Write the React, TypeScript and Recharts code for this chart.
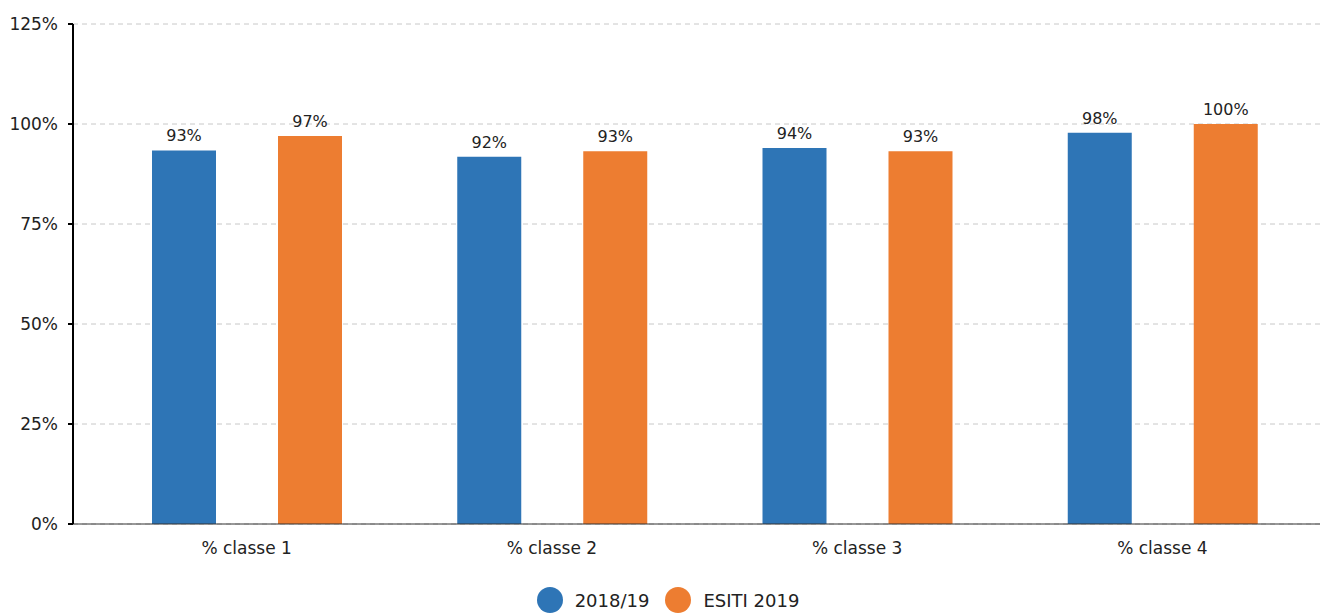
import React from 'react';
import { BarChart, Bar, XAxis, YAxis, CartesianGrid, Legend, LabelList } from 'recharts';

const categories = ['% classe 1', '% classe 2', '% classe 3', '% classe 4'];
const series2018 = [93.4, 91.8, 94, 97.8];
const seriesEsiti = [97, 93.2, 93.2, 100];
const yTicks = [0, 25, 50, 75, 100, 125];

const data = categories.map((c, i) => ({ name: c, a: series2018[i], b: seriesEsiti[i] }));

const FONT = '"DejaVu Sans", Verdana, sans-serif';

const legendItems = [
  { label: '2018/19', color: '#2e75b6' },
  { label: 'ESITI 2019', color: '#ed7d31' },
];

const LegendContent = () => (
  <div style={{ display: 'flex', justifyContent: 'center', alignItems: 'center', paddingTop: 23, fontFamily: FONT, fontSize: 18, color: '#222' }}>
    {legendItems.map((it) => (
      <div key={it.label} style={{ display: 'flex', alignItems: 'center', margin: '0 8px' }}>
        <svg width={26} height={26} style={{ marginRight: 12 }}>
          <circle cx={13} cy={13} r={13} fill={it.color} />
        </svg>
        <span>{it.label}</span>
      </div>
    ))}
  </div>
);

export default function App() {
  return (
    <div style={{ fontFamily: FONT, width: 1320, height: 620 }}>
      <style>{'html,body{overflow:hidden}'}</style>
      <BarChart
        width={1320}
        height={620}
        data={data}
        margin={{ top: 16, right: 0, left: 0, bottom: 0 }}
        barCategoryGap={57}
        barGap={62}
      >
        <CartesianGrid vertical={false} stroke="#c8c8c8" strokeDasharray="5 4" />
        <XAxis
          dataKey="name"
          height={40}
          padding={{ left: 21, right: 13 }}
          tickLine={false}
          axisLine={{ stroke: '#333', strokeWidth: 1 }}
          tick={{ fill: '#222', fontSize: 17, fontFamily: FONT }}
          tickMargin={12}
        />
        <YAxis
          width={65}
          domain={[0, 125]}
          ticks={yTicks}
          tickFormatter={(v: number) => `${v}%`}
          axisLine={{ stroke: '#000', strokeWidth: 2 }}
          tickLine={{ stroke: '#000', strokeWidth: 2 }}
          tickSize={5}
          tickMargin={10}
          tick={{ fill: '#222', fontSize: 17, fontFamily: FONT }}
          interval={0}
        />
        <Legend verticalAlign="bottom" height={64} content={<LegendContent />} />
        <Bar dataKey="a" name="2018/19" fill="#2e75b6" barSize={64} isAnimationActive={false}>
          <LabelList dataKey="a" position="top" offset={9} formatter={(v: number) => `${Math.round(v)}%`} style={{ fill: '#222', fontSize: 16, fontFamily: FONT }} />
        </Bar>
        <Bar dataKey="b" name="ESITI 2019" fill="#ed7d31" barSize={64} isAnimationActive={false}>
          <LabelList dataKey="b" position="top" offset={9} formatter={(v: number) => `${Math.round(v)}%`} style={{ fill: '#222', fontSize: 16, fontFamily: FONT }} />
        </Bar>
      </BarChart>
    </div>
  );
}
